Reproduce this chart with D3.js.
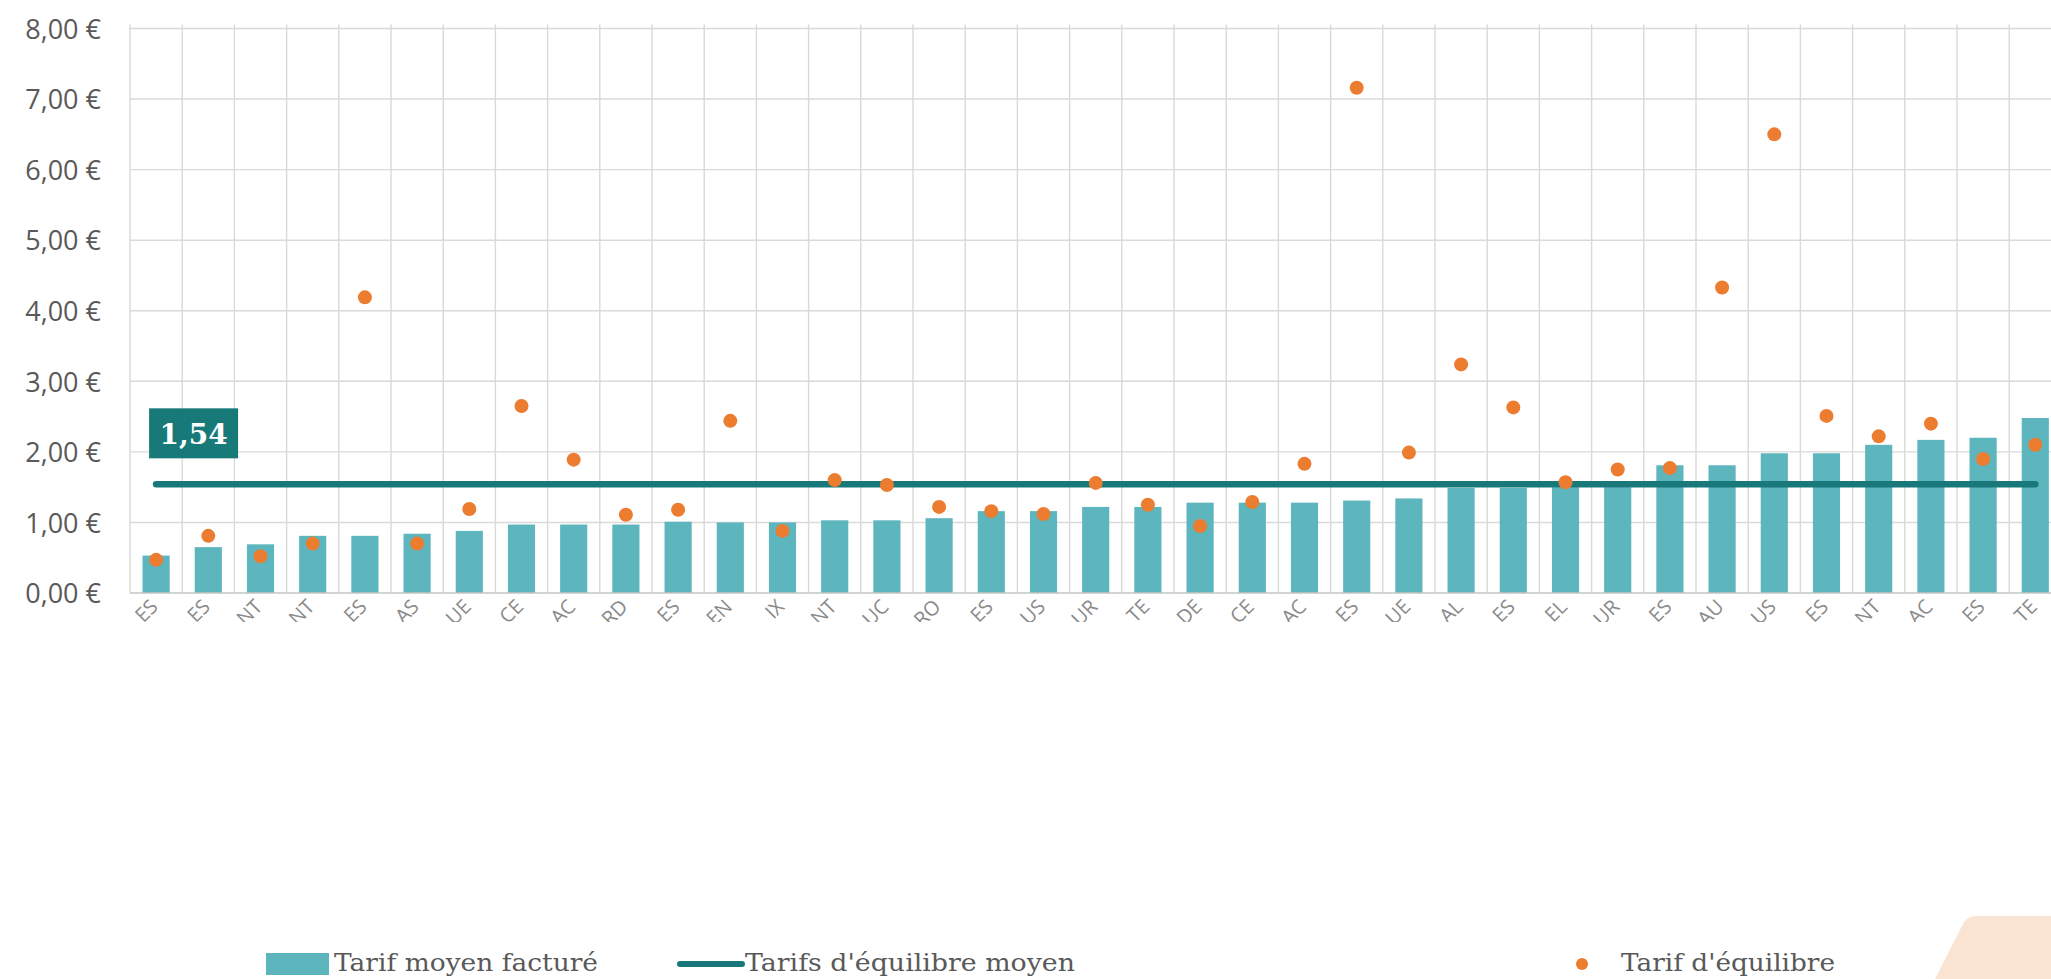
<!DOCTYPE html>
<html><head><meta charset="utf-8">
<script src="https://cdn.jsdelivr.net/npm/d3@7"></script>
<style>
html,body{margin:0;padding:0;background:#fff;overflow:hidden;}
svg{display:block;}
</style></head>
<body>
<svg id="chart" width="2051" height="979"></svg>
<script>
// ---- data ----
const categories = ["ES","ES","NT","NT","ES","AS","UE","CE","AC","RD","ES","EN","IX","NT","UC","RO","ES","US","UR","TE","DE","CE","AC","ES","UE","AL","ES","EL","UR","ES","AU","US","ES","NT","AC","ES","TE"];
const tarifMoyen = [0.53,0.65,0.69,0.81,0.81,0.84,0.88,0.97,0.97,0.97,1.01,1.00,1.00,1.03,1.03,1.06,1.16,1.16,1.22,1.22,1.28,1.28,1.28,1.31,1.34,1.49,1.49,1.50,1.50,1.81,1.81,1.98,1.98,2.10,2.17,2.20,2.48];
const tarifEquilibre = [0.47,0.81,0.52,0.70,4.19,0.70,1.19,2.65,1.89,1.11,1.18,2.44,0.88,1.60,1.53,1.22,1.16,1.12,1.56,1.25,0.95,1.29,1.83,7.16,1.99,3.24,2.63,1.57,1.75,1.77,4.33,6.50,2.51,2.22,2.40,1.90,2.10];
const moyenneEquilibre = 1.54;
const yTicks = [0,1,2,3,4,5,6,7,8];
const legendLabels = ["Tarif moyen facturé","Tarifs d'équilibre moyen","Tarif d'équilibre"];

// ---- layout ----
const svg = d3.select("#chart");
const W = 2051, H = 979;
const plotLeft = 130, step = 52.2;
const plotRight = plotLeft + step*categories.length;
const plotTop = 28.5, plotBottom = 593;
const idx = categories.map((d,i)=>i);

const x = d3.scaleBand().domain(idx).range([plotLeft, plotRight]).paddingInner(0.48).paddingOuter(0.24);
const y = d3.scaleLinear().domain([0,8]).range([plotBottom, plotTop]);
const cx = i => x(i) + x.bandwidth()/2;

const barColor = "#5db5be", lineColor = "#18787a", dotColor = "#ec7c2f", gridColor = "#d9d9d9", textColor = "#595959";

// horizontal gridlines
svg.append("g").selectAll("line").data(yTicks.filter(t=>t>0)).join("line")
  .attr("x1", plotLeft).attr("x2", plotRight)
  .attr("y1", d=>y(d)).attr("y2", d=>y(d))
  .attr("stroke", gridColor).attr("stroke-width", 1.4);

// vertical gridlines at band boundaries
const bounds = d3.range(categories.length+1).map(k => plotLeft + k*x.step());
svg.append("g").selectAll("line").data(bounds).join("line")
  .attr("x1", d=>d).attr("x2", d=>d)
  .attr("y1", plotTop - 4).attr("y2", plotBottom)
  .attr("stroke", gridColor).attr("stroke-width", 1.4);

// y axis labels
const yAxis = d3.axisLeft(y).tickValues(yTicks).tickSize(0).tickPadding(0)
  .tickFormat(d => d3.format(".2f")(d).replace(".", ",") + " €");
const ya = svg.append("g").attr("transform", `translate(101,0)`).call(yAxis);
ya.select(".domain").remove();
ya.selectAll("text").attr("font-family","'Open Sans', sans-serif").attr("font-size", 27)
  .attr("fill", textColor).attr("dy","0.36em");

// bars
svg.append("g").selectAll("rect").data(tarifMoyen).join("rect")
  .attr("x", (d,i)=>x(i)).attr("width", x.bandwidth())
  .attr("y", d=>y(d)).attr("height", d=>y(0)-y(d))
  .attr("fill", barColor);

// baseline axis
svg.append("line").attr("x1", plotLeft).attr("x2", plotRight)
  .attr("y1", y(0)).attr("y2", y(0)).attr("stroke", "#c4c4c4").attr("stroke-width", 1.6);

// x labels (only their tails are visible in the source)
const defs = svg.append("defs");
defs.append("clipPath").attr("id","xclip").append("rect")
  .attr("x", 0).attr("y", y(0)+4).attr("width", W).attr("height", 25);
const xl = svg.append("g").attr("clip-path","url(#xclip)");
xl.selectAll("text").data(categories).join("text")
  .attr("transform", (d,i)=>`translate(${cx(i)+3},${y(0)+15}) rotate(-45)`)
  .attr("text-anchor","end")
  .attr("font-family","'Open Sans', sans-serif").attr("font-size", 20)
  .attr("fill", "#8a8a8a")
  .text(d=>d);

// mean line
svg.append("line")
  .attr("x1", cx(0)).attr("x2", cx(categories.length-1))
  .attr("y1", y(moyenneEquilibre)).attr("y2", y(moyenneEquilibre))
  .attr("stroke", lineColor).attr("stroke-width", 6.5).attr("stroke-linecap","round");

// dots
svg.append("g").selectAll("circle").data(tarifEquilibre).join("circle")
  .attr("cx", (d,i)=>cx(i)).attr("cy", d=>y(d)).attr("r", 7)
  .attr("fill", dotColor);

// mean label
const lblX = cx(0) - 7, lblY = y(moyenneEquilibre) - 76;
svg.append("rect").attr("x", lblX).attr("y", lblY).attr("width", 89).attr("height", 50).attr("fill", "#177a79");
svg.append("text").attr("x", lblX + 44.5).attr("y", lblY + 36)
  .attr("text-anchor","middle").attr("font-family","'DejaVu Serif', serif").attr("font-weight","bold")
  .attr("font-size", 28).attr("fill","#fff")
  .text(d3.format(".2f")(moyenneEquilibre).replace(".", ","));

// peach decoration
svg.append("path")
  .attr("d", "M1935,979 L1962,926 Q1966,916 1976,916 L2051,916 L2051,979 Z")
  .attr("fill", "#f9e4d4");

// legend
const lg = svg.append("g").attr("font-family","'DejaVu Serif', serif").attr("font-size", 25).attr("fill", textColor);
lg.append("rect").attr("x", 266).attr("y", 953).attr("width", 63).attr("height", 22).attr("fill", barColor);
lg.append("text").attr("x", 334).attr("y", 971).attr("textLength", 264).attr("lengthAdjust","spacingAndGlyphs").text(legendLabels[0]);
lg.append("line").attr("x1", 680).attr("x2", 742).attr("y1", 964).attr("y2", 964)
  .attr("stroke", lineColor).attr("stroke-width", 6).attr("stroke-linecap","round");
lg.append("text").attr("x", 745).attr("y", 971).attr("textLength", 330).attr("lengthAdjust","spacingAndGlyphs").text(legendLabels[1]);
lg.append("circle").attr("cx", 1582).attr("cy", 964).attr("r", 6).attr("fill", dotColor);
lg.append("text").attr("x", 1621).attr("y", 971).attr("textLength", 214).attr("lengthAdjust","spacingAndGlyphs").text(legendLabels[2]);
</script>
</body></html>
